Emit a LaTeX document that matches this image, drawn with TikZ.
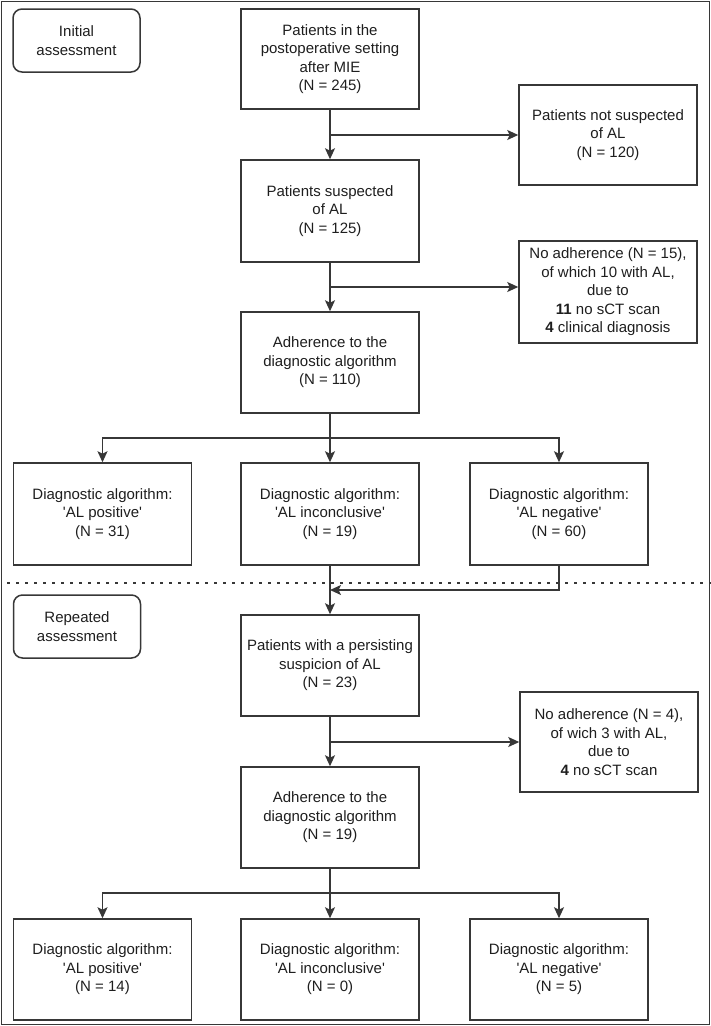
\documentclass[tikz,border=0pt]{standalone}
\usepackage{fontspec}
\setmainfont{Liberation Sans}
\usetikzlibrary{arrows.meta,calc}
\definecolor{lc}{RGB}{55,55,55}
\definecolor{tc}{RGB}{30,30,30}
\newcommand{\sq}{\textquotesingle}
\begin{document}
\begin{tikzpicture}[x=1pt,y=-1pt,
  box/.style={draw=lc,line width=1.5pt,align=center,inner sep=0pt,text=tc,
    minimum width=178pt,minimum height=101pt,
    font=\fontsize{15}{18.5}\selectfont},
  phase/.style={draw=lc,line width=1.5pt,align=center,inner sep=0pt,text=tc,
    rounded corners=9pt,minimum width=127pt,minimum height=63pt,
    font=\fontsize{15}{18.5}\selectfont},
  conn/.style={draw=lc,line width=1.5pt},
  arr/.style={conn,-{Stealth[length=11pt,width=10pt,inset=2.5pt]}}]
\useasboundingbox (0,0) rectangle (711,1026);
\draw[lc,line width=1.5pt] (1.5,1.5) rectangle (709.5,1024.5);

% phase labels
\node[phase] (ini) at (76.5,40.5) {Initial\\assessment};
\node[phase] (rep) at (77,626.5) {Repeated\\assessment};

% initial assessment
\node[box,minimum height=100pt] (b1) at (330,59) {Patients in the\\postoperative setting\\after MIE\\(N = 245)};
\node[box,minimum height=100pt] (ns) at (608,135) {Patients not suspected\\of AL\\(N = 120)};
\node[box,minimum height=102pt] (b2) at (330,211) {Patients suspected\\of AL\\(N = 125)};
\node[box,minimum height=102pt] (na1) at (608,292) {No adherence (N = 15),\\of which 10 with AL,\\due to\\\textbf{11} no sCT scan\\\textbf{4} clinical diagnosis};
\node[box] (b3) at (330,362.5) {Adherence to the\\diagnostic algorithm\\(N = 110)};
\node[box,minimum height=102pt] (r1a) at (102.5,514) {Diagnostic algorithm:\\\sq AL positive\sq\\(N = 31)};
\node[box,minimum height=102pt] (r1b) at (330,514) {Diagnostic algorithm:\\\sq AL inconclusive\sq\\(N = 19)};
\node[box,minimum height=102pt] (r1c) at (559,514) {Diagnostic algorithm:\\\sq AL negative\sq\\(N = 60)};

% separator
\draw[lc,line width=2.6pt,dash pattern=on 2.6pt off 6.4pt] (7,583) -- (711,583);

% repeated assessment
\node[box] (p) at (330,665.5) {Patients with a persisting\\suspicion of AL\\(N = 23)};
\node[box,minimum height=100pt] (na2) at (609,742) {No adherence (N = 4),\\of wich 3 with AL,\\due to\\\textbf{4} no sCT scan};
\node[box] (b4) at (330,817.5) {Adherence to the\\diagnostic algorithm\\(N = 19)};
\node[box] (r2a) at (102.5,969.5) {Diagnostic algorithm:\\\sq AL positive\sq\\(N = 14)};
\node[box] (r2b) at (330,969.5) {Diagnostic algorithm:\\\sq AL inconclusive\sq\\(N = 0)};
\node[box] (r2c) at (559,969.5) {Diagnostic algorithm:\\\sq AL negative\sq\\(N = 5)};

% connectors
\coordinate (j1) at (330,135);
\draw[arr] (b1.south) -- (b2.north);
\draw[arr] (j1) -- (ns.west);
\coordinate (j2) at (330,287);
\draw[arr] (b2.south) -- (b3.north);
\draw[arr] (j2) -- (j2 -| na1.west);
\coordinate (j3) at (330,438);
\draw[arr] (b3.south) -- (r1b.north);
\draw[arr] (j3) -| (r1a.north);
\draw[arr] (j3) -| (r1c.north);
\draw[arr] (r1b.south) -- (p.north);
\coordinate (j4) at (330,590);
\draw[arr] (r1c.south) |- (j4);
\coordinate (j5) at (330,742);
\draw[arr] (p.south) -- (b4.north);
\draw[arr] (j5) -- (na2.west);
\coordinate (j6) at (330,893);
\draw[arr] (b4.south) -- (r2b.north);
\draw[arr] (j6) -| (r2a.north);
\draw[arr] (j6) -| (r2c.north);
\end{tikzpicture}
\end{document}
